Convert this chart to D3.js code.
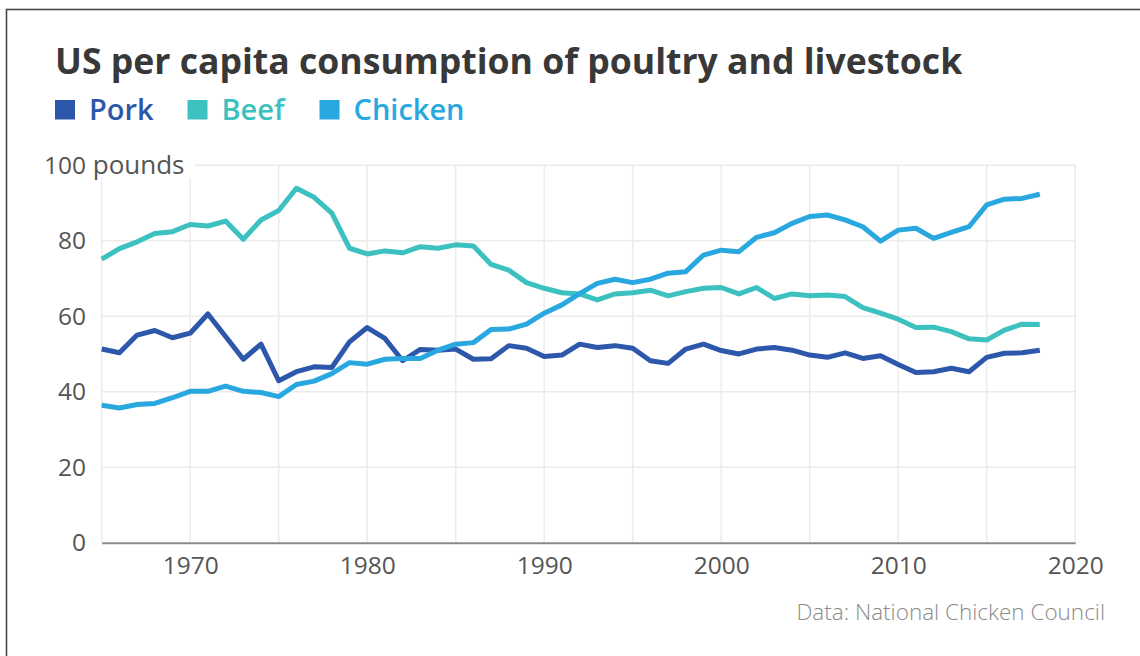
<!DOCTYPE html>
<html>
<head>
<meta charset="utf-8">
<script src="https://cdn.jsdelivr.net/npm/d3@7/dist/d3.min.js"></script>
<style>
  html, body { margin: 0; padding: 0; background: #fff; }
  svg { display: block; font-family: "Open Sans", sans-serif; }
</style>
</head>
<body>
<svg id="chart" width="1140" height="656"></svg>
<script>
// Per-capita consumption, pounds, 1965–2018
const years = d3.range(1965, 2019);
const pork = [
  51.3, 50.3, 55.0, 56.2, 54.3, 55.5, 60.6, 54.6, 48.6, 52.6, 42.9, 45.3, 46.6, 46.4,
  53.2, 57.0, 54.1, 48.2, 51.2, 51.0, 51.3, 48.6, 48.7, 52.2, 51.5, 49.3, 49.7, 52.6,
  51.7, 52.2, 51.5, 48.2, 47.5, 51.3, 52.6, 50.9, 50.0, 51.3, 51.7, 51.0, 49.7, 49.1,
  50.3, 48.8, 49.5, 47.2, 45.1, 45.3, 46.2, 45.3, 49.1, 50.2, 50.3, 51.0
];
const beef = [
  75.1, 77.9, 79.7, 81.9, 82.4, 84.3, 83.9, 85.2, 80.4, 85.5, 88.0, 93.9, 91.5, 87.3,
  78.0, 76.5, 77.3, 76.8, 78.4, 78.0, 78.9, 78.6, 73.7, 72.2, 68.9, 67.4, 66.2, 65.9,
  64.3, 65.9, 66.2, 66.9, 65.4, 66.5, 67.4, 67.6, 65.9, 67.6, 64.7, 65.9, 65.4, 65.6,
  65.2, 62.3, 60.8, 59.2, 57.0, 57.1, 55.9, 54.0, 53.7, 56.3, 57.9, 57.8
];
const chicken = [
  36.4, 35.7, 36.6, 36.9, 38.4, 40.1, 40.1, 41.5, 40.1, 39.8, 38.7, 41.9, 42.8, 44.8,
  47.7, 47.3, 48.6, 48.8, 48.8, 51.0, 52.6, 53.0, 56.5, 56.6, 57.9, 60.8, 63.0, 66.0,
  68.7, 69.8, 68.9, 69.8, 71.4, 71.8, 76.2, 77.5, 77.1, 80.9, 82.1, 84.6, 86.4, 86.8,
  85.5, 83.7, 79.9, 82.8, 83.3, 80.6, 82.2, 83.7, 89.5, 91.0, 91.2, 92.3
];
const seriesNames = ["Pork", "Beef", "Chicken"];
const seriesColors = ["#2d57ab", "#3cc0c0", "#29a8e0"];
const xTickLabels = [1970, 1980, 1990, 2000, 2010, 2020];
const xGridYears = [1965, 1970, 1975, 1980, 1985, 1990, 1995, 2000, 2005, 2010, 2015, 2020];
const yTicks = [0, 20, 40, 60, 80, 100];
const yUnit = "pounds";
const titleText = "US per capita consumption of poultry and livestock";
const sourceText = "Data: National Chicken Council";

const svg = d3.select("#chart");

// Frame around the graphic
svg.append("rect")
  .attr("x", 6.5).attr("y", 9.5)
  .attr("width", 1300).attr("height", 1000)
  .attr("fill", "none").attr("stroke", "#4a4a4a").attr("stroke-width", 1.6);

// Title
svg.append("text")
  .attr("x", 55).attr("y", 74)
  .attr("font-size", 35.6).attr("font-weight", 700)
  .attr("fill", "#383838")
  .text(titleText);

// Legend
const legendX = [55, 187.5, 319.5];
seriesNames.forEach((name, i) => {
  const g = svg.append("g").attr("transform", `translate(${legendX[i]},100)`);
  g.append("rect").attr("width", 20).attr("height", 19.5).attr("fill", seriesColors[i]);
  g.append("text").attr("x", 34).attr("y", 19.5)
    .attr("font-size", 29).attr("font-weight", 600).attr("fill", seriesColors[i]).text(name);
});

// Scales
const x = d3.scaleLinear().domain([1965, 2020]).range([101.7, 1075.2]);
const y = d3.scaleLinear().domain([0, 100]).range([542.7, 165.2]);

// Grid
const grid = svg.append("g");
grid.selectAll("line.v").data(xGridYears).join("line")
  .attr("x1", d => x(d)).attr("x2", d => x(d))
  .attr("y1", y(100)).attr("y2", y(0))
  .attr("stroke", "#ebebeb").attr("stroke-width", 1.5);
grid.selectAll("line.h").data(yTicks.filter(d => d > 0)).join("line")
  .attr("x1", x(1965)).attr("x2", x(2020))
  .attr("y1", d => y(d)).attr("y2", d => y(d))
  .attr("stroke", "#ebebeb").attr("stroke-width", 1.5);

// Y axis labels
const yAxis = d3.axisLeft(y).tickValues(yTicks).tickSize(0).tickPadding(0).tickFormat(d3.format("d"));
const yG = svg.append("g").attr("transform", "translate(86,0)").call(yAxis);
yG.select(".domain").remove();
yG.selectAll("text").attr("font-family", "Open Sans").attr("font-size", 24.5).attr("fill", "#555");

// Unit label on the top tick, number aligned with the others
const topTick = yG.selectAll(".tick").filter(d => d === 100);
const topText = topTick.select("text");
const numLen = topText.node().getComputedTextLength();
topText.attr("text-anchor", "start").attr("x", -numLen)
  .append("tspan").attr("font-size", 26).text(" " + yUnit);
const fullLen = topText.node().getComputedTextLength();
topTick.insert("rect", "text")
  .attr("x", -numLen - 6).attr("y", -14)
  .attr("width", fullLen + 16).attr("height", 26)
  .attr("fill", "#fff");

// X axis
const xAxis = d3.axisBottom(x).tickValues(xTickLabels).tickSize(0).tickPadding(14).tickFormat(d3.format("d"));
const xG = svg.append("g").attr("transform", `translate(0,${y(0)})`).call(xAxis);
xG.select(".domain").attr("stroke", "#8a8a8a").attr("stroke-width", 2);
xG.selectAll("text").attr("font-family", "Open Sans").attr("font-size", 24.5).attr("fill", "#555");

// Lines
const line = d3.line().x((d, i) => x(years[i])).y(d => y(d));
[pork, beef, chicken].forEach((vals, i) => {
  svg.append("path")
    .datum(vals)
    .attr("d", line)
    .attr("fill", "none")
    .attr("stroke", seriesColors[i])
    .attr("stroke-width", 5)
    .attr("stroke-linejoin", "round")
    .attr("stroke-linecap", "butt");
});

// Source note
svg.append("text")
  .attr("x", 1105).attr("y", 620)
  .attr("text-anchor", "end")
  .attr("font-size", 22.5).attr("font-weight", 300).attr("fill", "#8a8a8a")
  .text(sourceText);
</script>
</body>
</html>
